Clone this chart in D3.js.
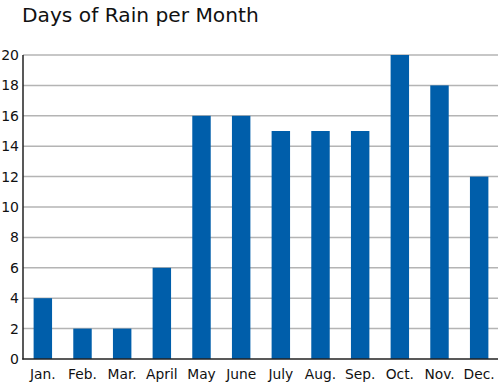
<!DOCTYPE html>
<html><head><meta charset="utf-8">
<script src="https://cdn.jsdelivr.net/npm/d3@7"></script>
<style>body{margin:0;background:#fff}svg{display:block}</style>
</head><body>
<svg id="c" width="500" height="383"></svg>
<script>
const months = ["Jan.","Feb.","Mar.","April","May","June","July","Aug.","Sep.","Oct.","Nov.","Dec."];
const rainDays = [4,2,2,6,16,16,15,15,15,20,18,12];
const yTicks = [0,2,4,6,8,10,12,14,16,18,20];
const title = "Days of Rain per Month";

const svg = d3.select("#c");
const font = "DejaVu Sans, Verdana, sans-serif";
const x = d3.scaleBand().domain(months).range([23, 499]).paddingInner(0.535).paddingOuter(0.2675);
const y = d3.scaleLinear().domain([0, 20]).range([359, 55]);

svg.append("text").attr("x", 22).attr("y", 21.5).attr("font-family", font).attr("font-size", 20.2).attr("fill", "#111").text(title);

svg.append("g").selectAll("line").data(yTicks.filter(d => d > 0)).join("line")
  .attr("x1", 23).attr("x2", 498).attr("y1", d => y(d)).attr("y2", d => y(d))
  .attr("stroke", "#b4b4b4").attr("stroke-width", 1.5);

svg.append("g").selectAll("text").data(yTicks).join("text")
  .attr("x", 19).attr("y", d => y(d) + 5).attr("text-anchor", "end")
  .attr("font-family", font).attr("font-size", 14).attr("fill", "#111").text(d => d);

svg.append("g").selectAll("rect").data(rainDays).join("rect")
  .attr("x", (d, i) => x(months[i])).attr("width", x.bandwidth())
  .attr("y", d => y(d)).attr("height", d => y(0) - y(d))
  .attr("fill", "#005eaa");

svg.append("line").attr("x1", 23).attr("x2", 23).attr("y1", 55).attr("y2", 359.5).attr("stroke", "#222").attr("stroke-width", 1.5);
svg.append("line").attr("x1", 22.25).attr("x2", 498).attr("y1", 359).attr("y2", 359).attr("stroke", "#222").attr("stroke-width", 1.5);

svg.append("g").selectAll("text").data(months).join("text")
  .attr("x", d => x(d) + x.bandwidth() / 2).attr("y", 379).attr("text-anchor", "middle")
  .attr("font-family", font).attr("font-size", 13.8).attr("fill", "#111").text(d => d);
</script>
</body></html>
